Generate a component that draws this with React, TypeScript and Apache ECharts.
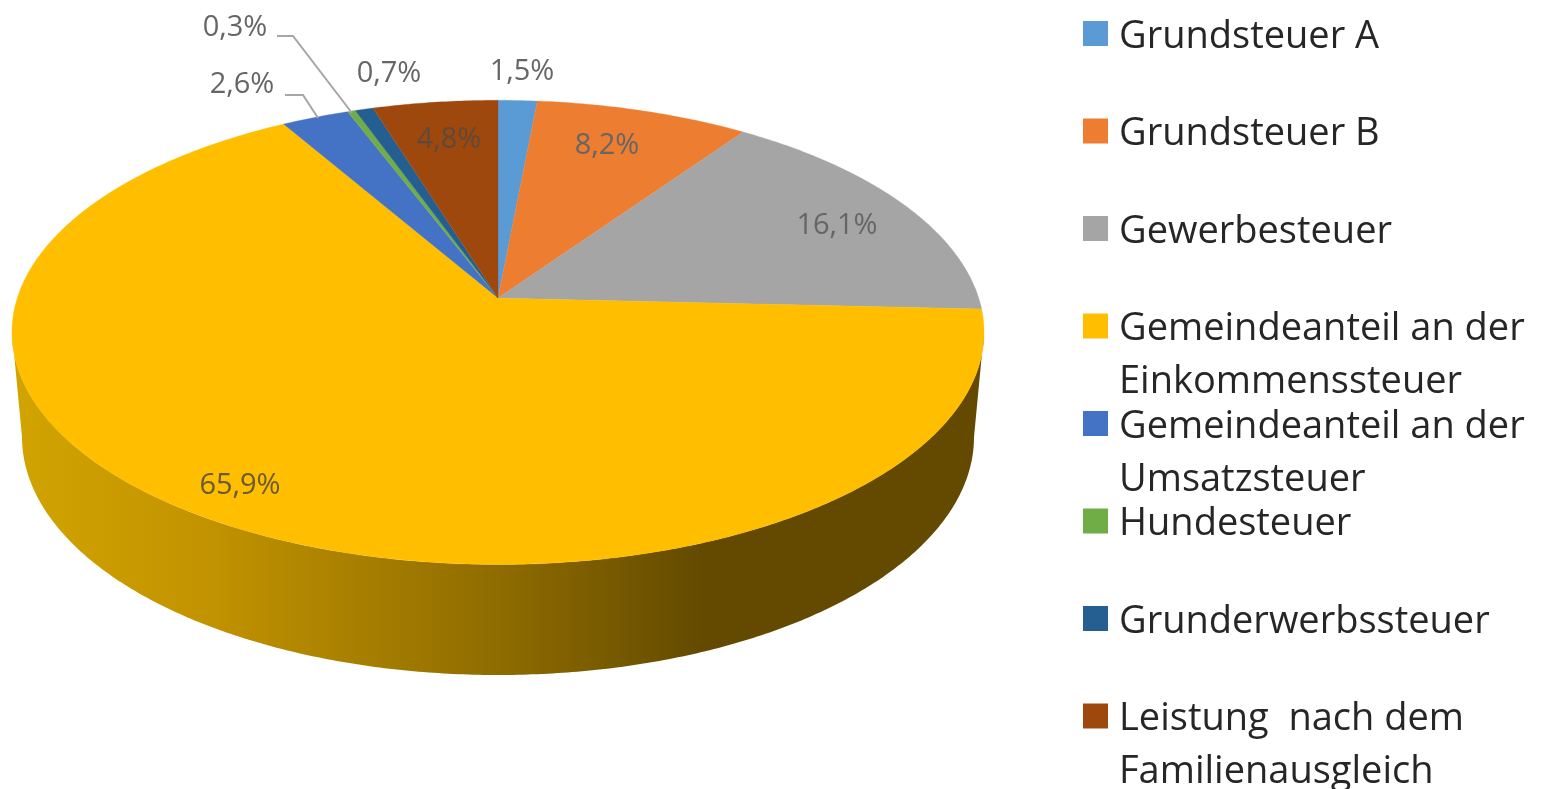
import React, { useEffect, useRef } from "react";
import * as echarts from "echarts";

const categories = [
  "Grundsteuer A",
  "Grundsteuer B",
  "Gewerbesteuer",
  "Gemeindeanteil an der\nEinkommenssteuer",
  "Gemeindeanteil an der\nUmsatzsteuer",
  "Hundesteuer",
  "Grunderwerbssteuer",
  "Leistung  nach dem\nFamilienausgleich",
];
const shares = [1.5, 8.2, 16.1, 65.9, 2.6, 0.3, 0.7, 4.8];
const sliceColors = ["#5B9BD5", "#ED7D31", "#A5A5A5", "#FFBE00", "#4472C4", "#70AD47", "#255E91", "#9E480E"];
const labelAnchors = [
  [522, 68], [607, 142], [837, 222], [240, 482], [242, 81], [235, 24], [389, 70], [449, 136],
];
const leaderLines: Record<number, number[][]> = {
  4: [[285, 95], [303, 95], [318, 118]],
  5: [[277, 36], [293, 36], [352, 113]],
};

const APEX = { x: 498, y: 298 };
const R = 480.7, S = 227, K = 0.148;
const TOP_ELL = { cx: 498, cy: 332, rx: 486, ry: 232.5 };
const BOT_ELL = { cx: 498, cy: 437, rx: 476, ry: 238 };
const total = shares.reduce((a, b) => a + b, 0);

const project = (a: number) => {
  const d = 1 + K * Math.cos(a);
  return [APEX.x + (R * Math.sin(a)) / d, APEX.y - (S * Math.cos(a)) / d];
};
const arc = (from: number, to: number) => {
  const n = Math.max(2, Math.ceil(Math.abs(to - from) / 0.01));
  const pts: number[][] = [];
  for (let i = 0; i <= n; i++) pts.push(project(from + ((to - from) * i) / n));
  return pts;
};
const ellArc = (e: typeof TOP_ELL, from: number, to: number) => {
  const pts: number[][] = [];
  const n = 300;
  for (let i = 0; i <= n; i++) {
    const t = from + ((to - from) * i) / n;
    pts.push([e.cx + e.rx * Math.sin(t), e.cy - e.ry * Math.cos(t)]);
  }
  return pts;
};
const fmt = (v: number) => v.toFixed(1).replace(".", ",") + "%";

let acc = 0;
const sliceData = shares.map((v, i) => {
  const item = { value: [acc, acc + v, i] };
  acc += v;
  return item;
});

export default function App() {
  const ref = useRef<HTMLDivElement>(null);
  useEffect(() => {
    document.body.style.margin = "0";
    const chart = echarts.init(ref.current!, undefined, { renderer: "svg" });
    const wallFill = new echarts.graphic.LinearGradient(
      12, 0, 985, 0,
      [
        { offset: 0, color: "#D2A400" },
        { offset: 0.2, color: "#C29300" },
        { offset: 0.5, color: "#8F6C00" },
        { offset: 0.71, color: "#634A00" },
        { offset: 1, color: "#634A00" },
      ],
      true
    );
    chart.setOption({
      animation: false,
      backgroundColor: "#ffffff",
      series: [
        {
          type: "custom",
          name: "Anteile",
          coordinateSystem: "none",
          silent: true,
          data: sliceData,
          z: 2,
          renderItem: (_p: any, api: any) => {
            const a0 = (api.value(0) / total) * Math.PI * 2;
            const a1 = (api.value(1) / total) * Math.PI * 2;
            const idx = api.value(2);
            const children: any[] = [];
            const frontL = Math.PI / 2 + 0.08;
            const frontR = (3 * Math.PI) / 2 - 0.08;
            if (a0 < frontR && a1 > frontL) {
              const top = ellArc(TOP_ELL, Math.PI / 2, (3 * Math.PI) / 2);
              const bot = ellArc(BOT_ELL, Math.PI / 2, (3 * Math.PI) / 2).reverse();
              children.push({
                type: "polygon",
                shape: { points: [...top, ...bot] },
                style: { fill: wallFill },
              });
            }
            children.push({
              type: "polygon",
              shape: { points: [[APEX.x, APEX.y], ...arc(a0, a1)] },
              style: { fill: sliceColors[idx], stroke: sliceColors[idx], lineWidth: 0.3 },
            });
            return { type: "group", children };
          },
        },
        {
          type: "custom",
          name: "Beschriftung",
          coordinateSystem: "none",
          silent: true,
          data: sliceData,
          z: 3,
          renderItem: (_p: any, api: any) => {
            const idx = api.value(2);
            const children: any[] = [];
            if (leaderLines[idx]) {
              children.push({
                type: "polyline",
                shape: { points: leaderLines[idx] },
                style: { stroke: "#A6A6A6", lineWidth: 2, fill: "none" },
              });
            }
            children.push({
              type: "text",
              style: {
                text: fmt(shares[idx]),
                x: labelAnchors[idx][0],
                y: labelAnchors[idx][1],
                align: "center",
                verticalAlign: "middle",
                fill: idx === 3 ? "#6A5A35" : idx === 7 ? "#5E4A3A" : "#666666",
                font: "400 29px 'Open Sans'",
              },
            });
            return { type: "group", children };
          },
        },
      ],
      graphic: categories.flatMap((name, i) => {
        const y = 33.5 + i * 97.5;
        return [
          {
            type: "rect",
            shape: { x: 1083, y: y - 12.5, width: 25, height: 25 },
            style: { fill: sliceColors[i] },
          },
          ...name.split("\n").map((line, k) => ({
            type: "text",
            style: {
              text: line,
              x: 1119,
              y: y - 1 + k * 53,
              fill: "#262626",
              font: "400 38px 'Open Sans'",
              lineHeight: 38,
              align: "left",
              verticalAlign: "middle",
            },
          })),
        ];
      }),
    });
    return () => chart.dispose();
  }, []);
  return <div ref={ref} style={{ width: 1545, height: 789, filter: "blur(0.7px)" }} />;
}
